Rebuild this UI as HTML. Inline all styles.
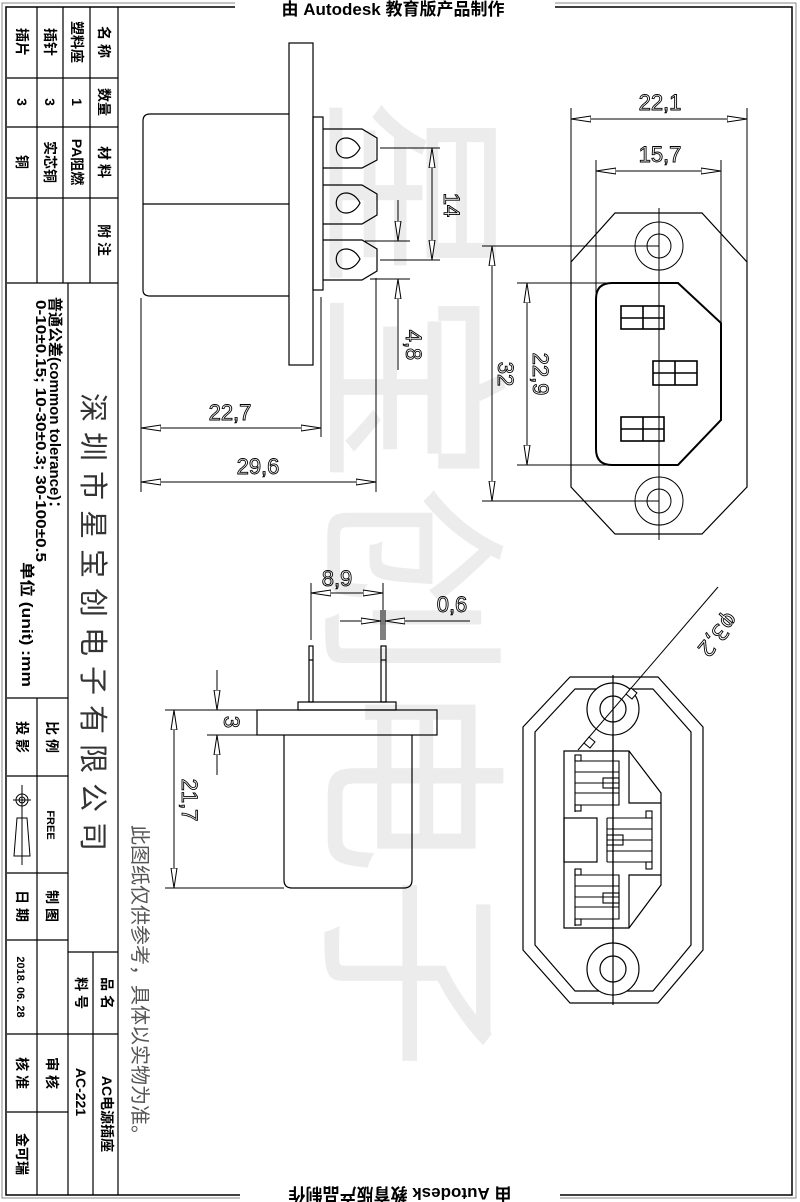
<!DOCTYPE html>
<html><head><meta charset="utf-8"><style>
html,body{margin:0;padding:0;background:#fff;}
svg{display:block;}
text{font-family:"Liberation Sans","Noto Sans CJK SC",sans-serif;}
.d{font-family:"DejaVu Sans","Liberation Sans",sans-serif;font-size:22px;fill:none;stroke:#000;stroke-width:0.9;}
.t{font-family:"Liberation Serif","Noto Serif CJK SC",serif;font-weight:bold;font-size:14px;fill:#000;}
</style></head><body>
<svg width="800" height="1202" viewBox="0 0 800 1202" xmlns="http://www.w3.org/2000/svg">
<defs>
<marker id="a" viewBox="0 0 20 8" refX="20" refY="4" markerWidth="20" markerHeight="8" markerUnits="userSpaceOnUse" orient="auto-start-reverse"><path d="M0,1 L20,4 L0,7 Z" fill="#fff" stroke="#000" stroke-width="1"/></marker>
</defs>
<!-- watermark -->
<g fill="#ececec" font-family="'Noto Serif CJK SC',serif" font-size="195">
<text transform="translate(340,95) rotate(90)">星宝创电子</text>
</g>
<!-- frame -->
<rect x="2" y="3" width="794" height="1195" fill="none" stroke="#888" stroke-width="1"/>
<rect x="6" y="7" width="786" height="1188" fill="none" stroke="#000" stroke-width="1.5"/>
<rect x="235" y="0" width="320" height="18" fill="#fff"/>
<text x="393" y="15" text-anchor="middle" font-weight="bold" font-size="17">由 Autodesk 教育版产品制作</text>
<g transform="translate(400,1196) rotate(180)"><rect x="-160" y="-9" width="320" height="18" fill="#fff"/><text x="0" y="8" text-anchor="middle" font-weight="bold" font-size="17">由 Autodesk 教育版产品制作</text></g>

<!-- title table -->
<g stroke="#000" stroke-width="1.2" fill="none">
<line x1="118" y1="7" x2="118" y2="1195"/>
<line x1="37" y1="7" x2="37" y2="283"/><line x1="63" y1="7" x2="63" y2="283"/><line x1="90" y1="7" x2="90" y2="283"/>
<line x1="7" y1="78" x2="118" y2="78"/><line x1="7" y1="127" x2="118" y2="127"/><line x1="7" y1="198" x2="118" y2="198"/><line x1="7" y1="283" x2="118" y2="283"/>
<line x1="68" y1="283" x2="68" y2="1195"/>
<line x1="7" y1="698" x2="68" y2="698"/><line x1="37" y1="698" x2="37" y2="1195"/>
<line x1="7" y1="776" x2="68" y2="776"/><line x1="7" y1="873" x2="68" y2="873"/><line x1="7" y1="940" x2="68" y2="940"/>
<line x1="68" y1="952" x2="118" y2="952"/><line x1="93" y1="952" x2="93" y2="1195"/>
<line x1="7" y1="1034" x2="118" y2="1034"/><line x1="7" y1="1112" x2="68" y2="1112"/>
</g>
<g class="t">
<text transform="translate(99,42) rotate(90)" text-anchor="middle">名 称</text>
<text transform="translate(99,102) rotate(90)" text-anchor="middle">数量</text>
<text transform="translate(99,162) rotate(90)" text-anchor="middle">材 料</text>
<text transform="translate(99,240) rotate(90)" text-anchor="middle">附  注</text>
<text transform="translate(72,42) rotate(90)" text-anchor="middle">塑料座</text>
<text transform="translate(72,102) rotate(90)" text-anchor="middle">1</text>
<text transform="translate(72,162) rotate(90)" text-anchor="middle">PA阻燃</text>
<text transform="translate(45,42) rotate(90)" text-anchor="middle">插针</text>
<text transform="translate(45,102) rotate(90)" text-anchor="middle">3</text>
<text transform="translate(45,162) rotate(90)" text-anchor="middle">实芯铜</text>
<text transform="translate(17,42) rotate(90)" text-anchor="middle">插片</text>
<text transform="translate(17,102) rotate(90)" text-anchor="middle">3</text>
<text transform="translate(17,162) rotate(90)" text-anchor="middle">铜</text>
<text transform="translate(50,297) rotate(90)" font-size="15">普通公差(common tolerance)：</text>
<text transform="translate(36,300) rotate(90)" font-size="15" font-family="'Liberation Mono',monospace" textLength="262" lengthAdjust="spacingAndGlyphs">0-10±0.15; 10-30±0.3; 30-100±0.5</text>
<text transform="translate(22,562) rotate(90)" font-size="15" textLength="125" lengthAdjust="spacingAndGlyphs">单位 (unit) :mm</text>
<text transform="translate(47,737) rotate(90)" text-anchor="middle">比 例</text>
<text transform="translate(17,737) rotate(90)" text-anchor="middle">投 影</text>
<text transform="translate(47,825) rotate(90)" text-anchor="middle" font-size="11">FREE</text>
<text transform="translate(47,906) rotate(90)" text-anchor="middle">制 图</text>
<text transform="translate(17,906) rotate(90)" text-anchor="middle">日 期</text>
<text transform="translate(17,987) rotate(90)" text-anchor="middle" font-size="11">2018. 06. 28</text>
<text transform="translate(102,993) rotate(90)" text-anchor="middle">品 名</text>
<text transform="translate(76,993) rotate(90)" text-anchor="middle">料 号</text>
<text transform="translate(102,1114) rotate(90)" text-anchor="middle">AC电源插座</text>
<text transform="translate(76,1092) rotate(90)" text-anchor="middle">AC-221</text>
<text transform="translate(47,1073) rotate(90)" text-anchor="middle">审 核</text>
<text transform="translate(17,1073) rotate(90)" text-anchor="middle">核 准</text>
<text transform="translate(17,1154) rotate(90)" text-anchor="middle">金可瑞</text>
</g>
<g stroke="#000" fill="none" stroke-width="1">
<line x1="22" y1="785" x2="22" y2="865"/><circle cx="22" cy="800" r="6"/><circle cx="22" cy="800" r="3"/><line x1="13" y1="800" x2="31" y2="800"/>
<path d="M17,818 L27,818 L30,856 L14,856 Z"/>
</g>
<text transform="translate(83,393) rotate(90)" font-family="'Noto Serif CJK SC',serif" font-size="29" letter-spacing="10" fill="#333">深圳市星宝创电子有限公司</text>
<text transform="translate(133,825) rotate(90)" font-family="'Noto Sans CJK SC',sans-serif" font-size="20" fill="#555">此图纸仅供参考，具体以实物为准。</text>

<!-- side view top -->
<g stroke="#000" stroke-width="1.2" fill="none">
<rect x="289" y="43" width="24" height="322"/>
<path d="M289,114 L150,114 Q143,114 143,121 L143,290 Q143,296 150,296 L289,296"/>
<line x1="143" y1="204" x2="289" y2="204"/>
<rect x="313" y="117" width="10" height="173"/>
<path d="M323,129 L362,129 L377,138 L377,160 L362,168 L323,168"/>
<path d="M323,185 L362,185 L377,194 L377,215 L362,224 L323,224"/>
<path d="M323,240 L362,240 L377,249 L377,271 L362,280 L323,280"/>
<path d="M346,138 C333,138 333,158 346,158 C352,158 357,154 360,148 C357,142 352,138 346,138 Z"/>
<path d="M346,193 C333,193 333,213 346,213 C352,213 357,209 360,203 C357,197 352,193 346,193 Z"/>
<path d="M346,249 C333,249 333,269 346,269 C352,269 357,265 360,259 C357,253 352,249 346,249 Z"/>
</g>
<g stroke="#000" stroke-width="1" fill="none">
<line x1="141" y1="298" x2="141" y2="492"/>
<line x1="321" y1="297" x2="321" y2="437"/>
<line x1="376" y1="278" x2="376" y2="492"/>
<line x1="141" y1="428" x2="321" y2="428" marker-start="url(#a)" marker-end="url(#a)"/>
<line x1="141" y1="482" x2="376" y2="482" marker-start="url(#a)" marker-end="url(#a)"/>
<line x1="380" y1="148" x2="440" y2="148"/><line x1="380" y1="260" x2="440" y2="260"/>
<line x1="432" y1="148" x2="432" y2="260" marker-start="url(#a)" marker-end="url(#a)"/>
<line x1="365" y1="241" x2="410" y2="241"/><line x1="370" y1="279" x2="410" y2="279"/>
<line x1="398" y1="200" x2="398" y2="241" marker-end="url(#a)"/>
<line x1="398" y1="370" x2="398" y2="279" marker-end="url(#a)"/>
</g>
<g class="d">
<text x="230" y="420" text-anchor="middle">22,7</text>
<text x="258" y="474" text-anchor="middle">29,6</text>
<text transform="translate(444,205) rotate(90)" text-anchor="middle">14</text>
<text transform="translate(406,345) rotate(90)" text-anchor="middle">4,8</text>
</g>

<!-- front view top right -->
<g stroke="#000" stroke-width="1" fill="none">
<path d="M615,213 L702,213 L747,262 L747,487 L702,534 L615,534 L571,487 L571,262 Z" stroke-width="1.2"/>
<line x1="659" y1="208" x2="659" y2="540"/>
<circle cx="659" cy="246" r="24"/><circle cx="659" cy="246" r="12"/>
<circle cx="659" cy="501" r="24"/><circle cx="659" cy="501" r="12"/>
<path d="M612,283 L678,283 L721,323 L721,420 L678,465 L612,465 Q596,465 596,449 L596,299 Q596,283 612,283 Z" stroke-width="2"/>
<g stroke-width="1.6">
<rect x="621" y="306" width="43" height="23"/><line x1="643" y1="306" x2="643" y2="329"/><line x1="621" y1="318" x2="664" y2="318"/>
<rect x="653" y="361" width="44" height="24"/><line x1="675" y1="361" x2="675" y2="385"/><line x1="653" y1="373" x2="697" y2="373"/>
<rect x="621" y="417" width="43" height="24"/><line x1="643" y1="417" x2="643" y2="441"/><line x1="621" y1="429" x2="664" y2="429"/>
</g>
<line x1="571" y1="108" x2="571" y2="262"/><line x1="747" y1="108" x2="747" y2="262"/>
<line x1="571" y1="119" x2="747" y2="119" marker-start="url(#a)" marker-end="url(#a)"/>
<line x1="596" y1="160" x2="596" y2="293"/><line x1="721" y1="160" x2="721" y2="323"/>
<line x1="596" y1="171" x2="721" y2="171" marker-start="url(#a)" marker-end="url(#a)"/>
<line x1="482" y1="246" x2="659" y2="246"/><line x1="482" y1="501" x2="659" y2="501"/>
<line x1="492" y1="246" x2="492" y2="501" marker-start="url(#a)" marker-end="url(#a)"/>
<line x1="517" y1="283" x2="610" y2="283"/><line x1="517" y1="465" x2="610" y2="465"/>
<line x1="527" y1="283" x2="527" y2="465" marker-start="url(#a)" marker-end="url(#a)"/>
</g>
<g class="d">
<text x="660" y="110" text-anchor="middle">22,1</text>
<text x="660" y="162" text-anchor="middle">15,7</text>
<text transform="translate(498,374) rotate(90)" text-anchor="middle">32</text>
<text transform="translate(533,374) rotate(90)" text-anchor="middle">22,9</text>
</g>

<!-- side view bottom -->
<g stroke="#000" stroke-width="1.2" fill="none">
<rect x="257" y="710" width="180" height="25"/>
<rect x="298" y="702" width="98" height="8"/>
<path d="M284,735 L284,880 Q284,888 292,888 L404,888 Q412,888 412,880 L412,735"/>
<rect x="309" y="646" width="4" height="56"/><line x1="309" y1="660" x2="313" y2="660"/>
<rect x="381" y="646" width="5" height="56"/><line x1="381" y1="660" x2="386" y2="660"/>
</g>
<g stroke="#000" stroke-width="1" fill="none">
<line x1="311" y1="583" x2="311" y2="640"/><line x1="383" y1="583" x2="383" y2="640"/>
<line x1="311" y1="593" x2="383" y2="593" marker-start="url(#a)" marker-end="url(#a)"/>
<line x1="381" y1="610" x2="381" y2="640"/><line x1="385" y1="610" x2="385" y2="640"/>
<line x1="340" y1="621" x2="381" y2="621" marker-end="url(#a)"/>
<line x1="470" y1="621" x2="385" y2="621" marker-end="url(#a)"/>
<line x1="165" y1="710" x2="257" y2="710"/><line x1="207" y1="735" x2="257" y2="735"/>
<line x1="165" y1="888" x2="284" y2="888"/>
<line x1="217" y1="670" x2="217" y2="710" marker-end="url(#a)"/>
<line x1="217" y1="775" x2="217" y2="735" marker-end="url(#a)"/>
<line x1="174" y1="710" x2="174" y2="888" marker-start="url(#a)" marker-end="url(#a)"/>
</g>
<g class="d">
<text x="337" y="586" text-anchor="middle">8,9</text>
<text x="452" y="612" text-anchor="middle">0,6</text>
<text transform="translate(224,722) rotate(90)" text-anchor="middle">3</text>
<text transform="translate(182,800) rotate(90)" text-anchor="middle">21,7</text>
</g>

<!-- bottom right view -->
<g stroke="#000" stroke-width="1.2" fill="none">
<path d="M570,677 L658,677 L703,727 L703,950 L658,1003 L570,1003 L523,950 L523,727 Z" stroke-linejoin="round"/>
<path d="M575,689 L653,689 L691,732 L691,945 L653,991 L575,991 L535,945 L535,732 Z" stroke-linejoin="round"/>
<line x1="613" y1="675" x2="613" y2="1005"/>
<circle cx="613" cy="709" r="26" fill="#fff"/><circle cx="613" cy="709" r="13"/>
<circle cx="613" cy="969" r="26" fill="#fff"/><circle cx="613" cy="969" r="13"/>
<line x1="613" y1="683" x2="613" y2="995"/>
<path d="M564,751 L629,751 L661,793 L661,885 L629,928 L564,928 Z"/>
<path d="M629,751 L629,803 L661,803 M629,928 L629,875 L661,875"/>
<rect x="564" y="818" width="33" height="44"/>
<g stroke-width="1.1">
<path d="M575,755 L575,812 M575,761 L619,761 L619,805 L575,805 M575,772 L619,772 M575,783 L619,783 M575,793 L619,793"/>
<rect x="575" y="755" width="6" height="6"/><rect x="575" y="805" width="6" height="6"/><rect x="603" y="778" width="16" height="10"/>
<path d="M575,869 L575,926 M575,875 L619,875 L619,919 L575,919 M575,886 L619,886 M575,897 L619,897 M575,907 L619,907"/>
<rect x="575" y="869" width="6" height="6"/><rect x="575" y="919" width="6" height="6"/><rect x="603" y="893" width="16" height="10"/>
<path d="M607,818 L607,862 M607,818 L652,818 L652,862 L607,862 M607,829 L652,829 M607,840 L652,840 M607,851 L652,851"/>
<rect x="646" y="811" width="6" height="7"/><rect x="646" y="862" width="6" height="7"/><rect x="607" y="835" width="16" height="10"/>
</g>
</g>
<g stroke="#000" stroke-width="1" fill="none">
<line x1="578" y1="750" x2="718" y2="587"/>
<path d="M589,737 L595,742 L590,748 L584,743 Z" fill="#fff"/>
<path d="M631,688 L637,693 L632,699 L626,694 Z" fill="#fff"/>
</g>
<text class="d" transform="translate(712,630) rotate(130)" text-anchor="middle">φ3,2</text>
</svg>
</body></html>
